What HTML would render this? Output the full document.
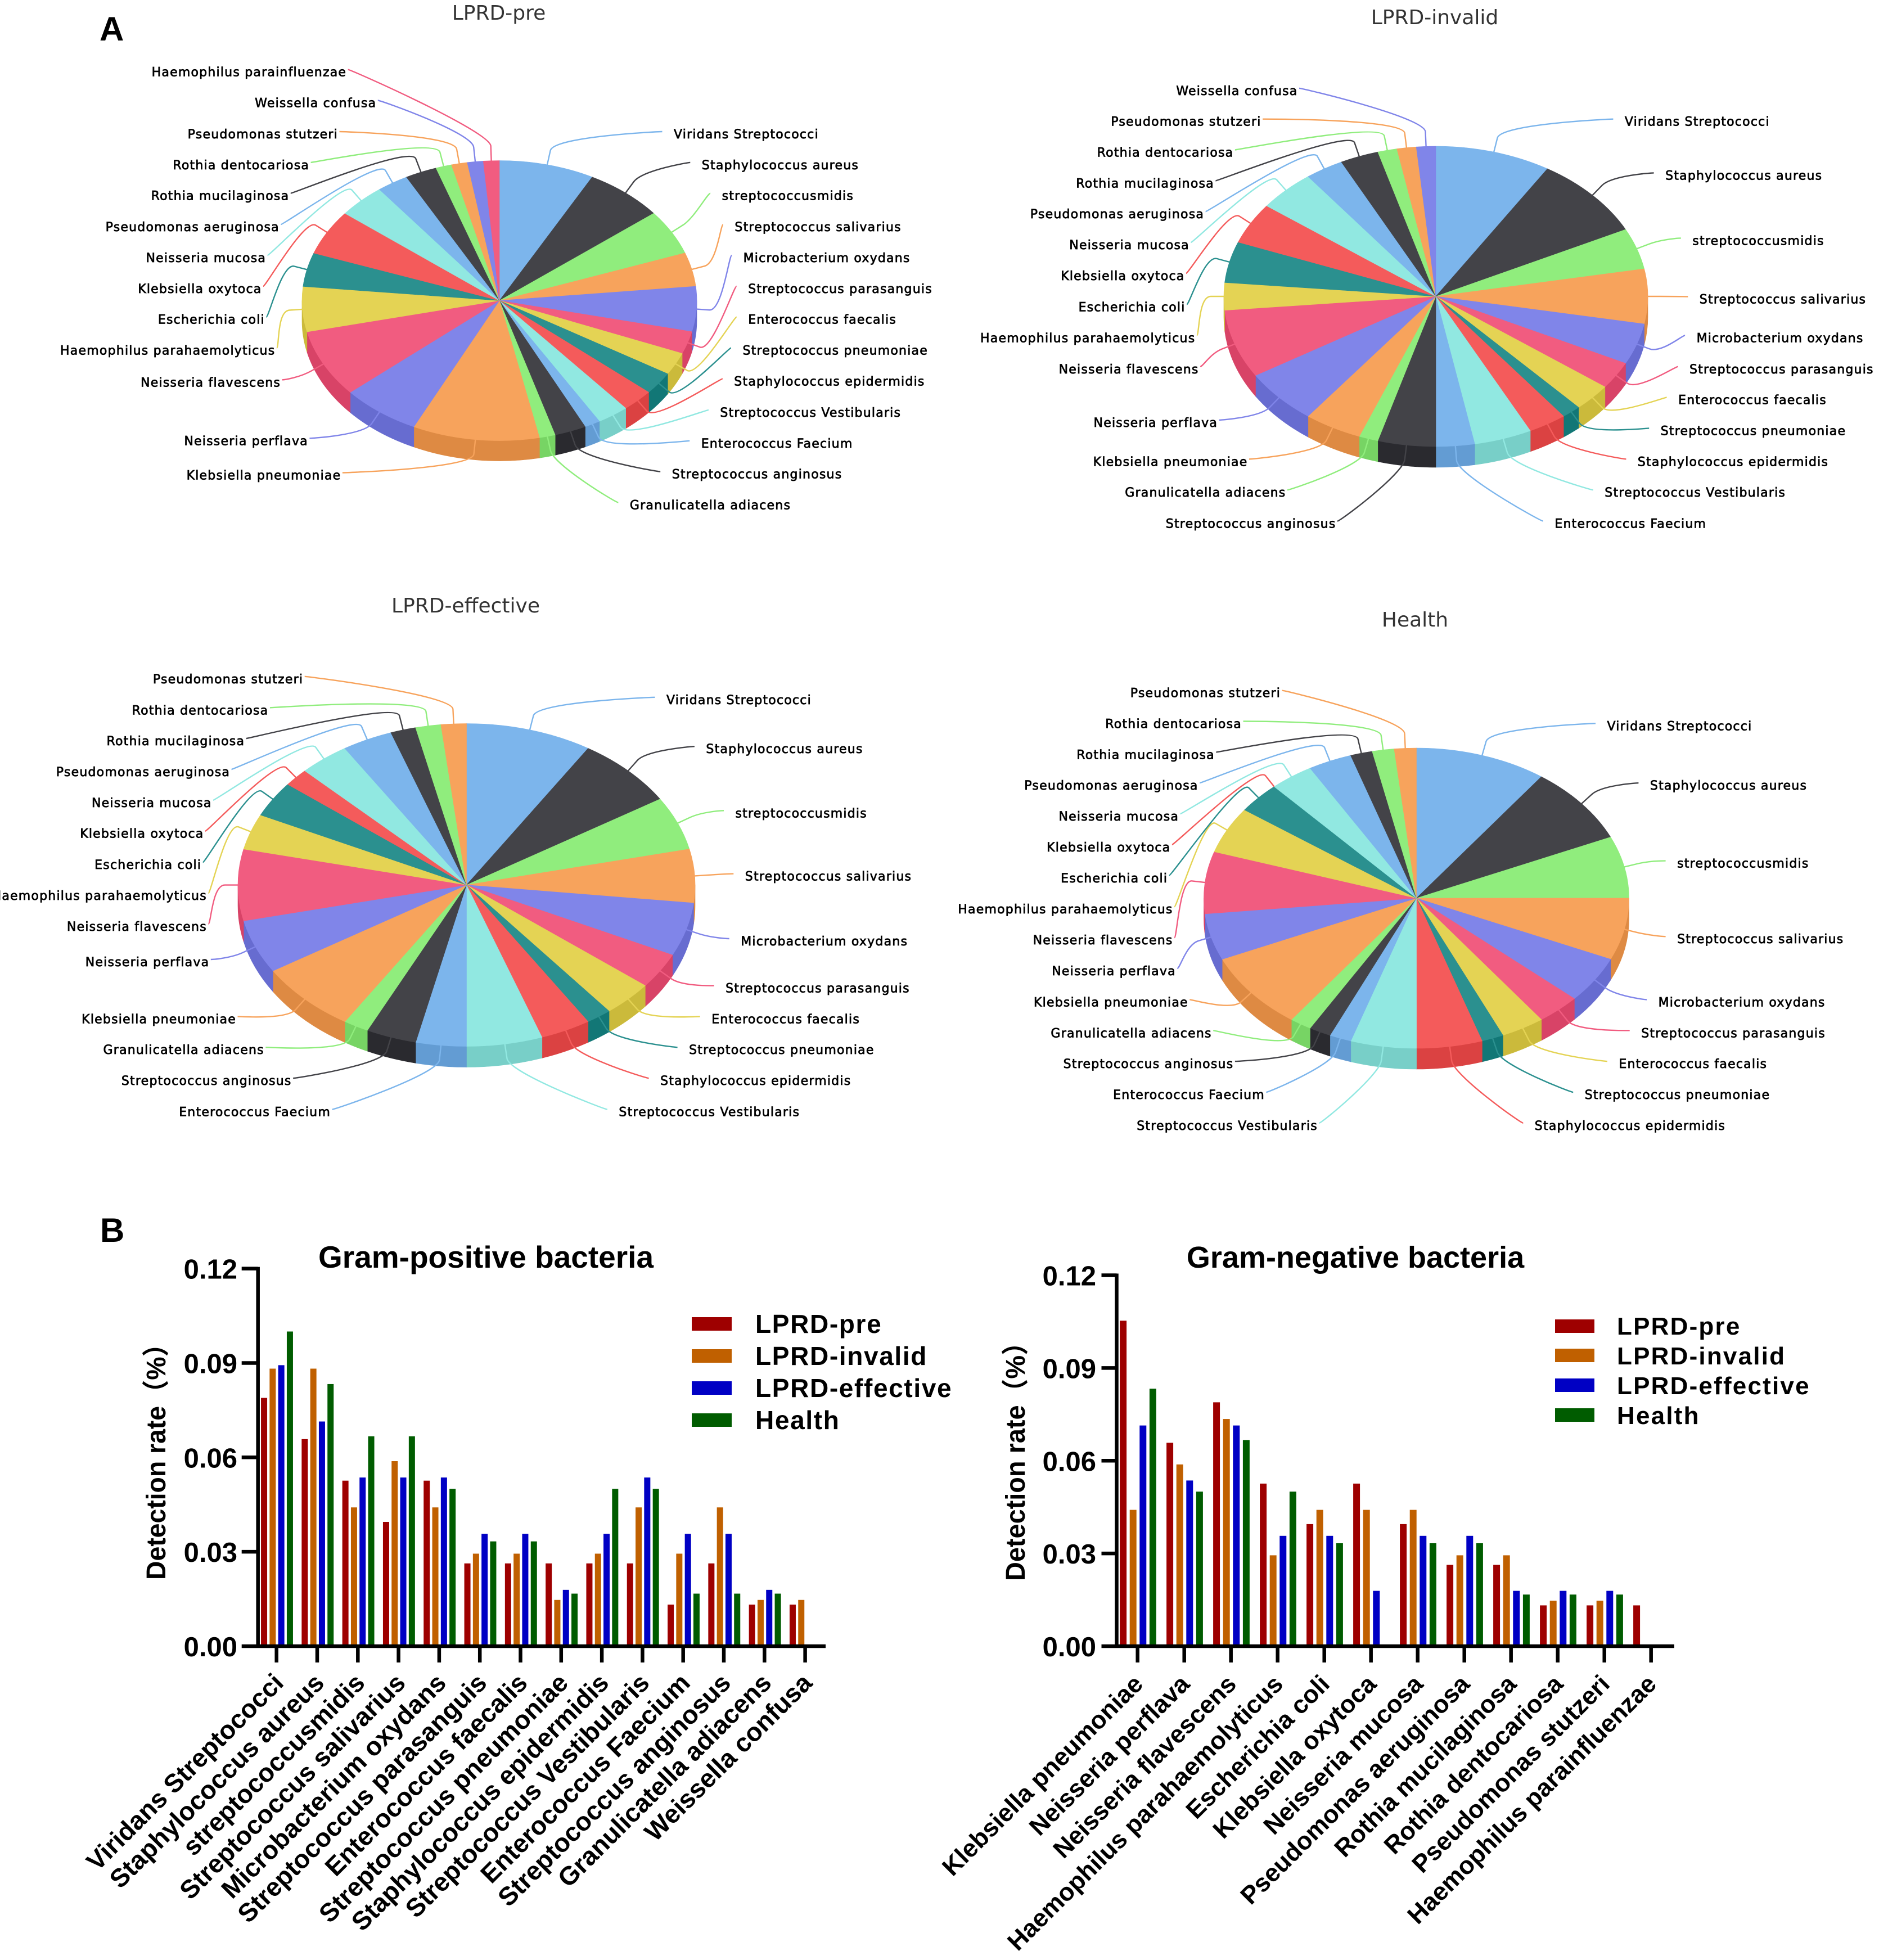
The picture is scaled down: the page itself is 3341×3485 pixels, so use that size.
<!DOCTYPE html>
<html lang="en">
<head>
<meta charset="utf-8">
<title>Bacterial detection in LPRD groups</title>
<style>
html,body{margin:0;padding:0;background:#fff}
svg{display:block}
.pie-label{font-family:"DejaVu Sans","Liberation Sans",sans-serif;font-size:22px;letter-spacing:1.22px;fill:#000;stroke:#000;stroke-width:.75px}
.pie-title{font-family:"DejaVu Sans","Liberation Sans",sans-serif;font-size:36px;fill:#333;text-anchor:middle}
.bold{font-family:"Liberation Sans",Arial,sans-serif;font-weight:700;fill:#000}
.panel{font-size:60px}
.chart-title{font-size:55px;text-anchor:middle}
.legend-text{font-size:46px;letter-spacing:1.65px}
.legend-text-r{font-size:44px;letter-spacing:2.2px}
.y-title{font-family:"Liberation Sans","Noto Sans CJK SC",sans-serif;font-weight:700;font-size:48px;fill:#000;text-anchor:start}
</style>
</head>
<body>
<svg id="fig" xmlns="http://www.w3.org/2000/svg" width="3341" height="3485" viewBox="0 0 3341 3485">
  <rect width="3341" height="3485" fill="#fff"/>
  <text class="bold panel" x="177" y="72">A</text>
  <text class="bold panel" x="178" y="2208">B</text>

  <text class="pie-title" x="887" y="35">LPRD-pre</text>
  <text class="pie-title" x="2551" y="43">LPRD-invalid</text>
  <text class="pie-title" x="828" y="1089">LPRD-effective</text>
  <text class="pie-title" x="2516" y="1114">Health</text>

  <g id="pies"></g>

  <text class="bold chart-title" x="864" y="2254">Gram-positive bacteria</text>
  <text class="bold chart-title" style="font-size:54px" x="2410" y="2254">Gram-negative bacteria</text>
  <text class="y-title" transform="translate(294,2809) rotate(-90)" textLength="443" lengthAdjust="spacingAndGlyphs">Detection rate（%）</text>
  <text class="y-title" transform="translate(1822,2811) rotate(-90)" textLength="448" lengthAdjust="spacingAndGlyphs">Detection rate（%）</text>

  <g id="bars"></g>

  <g>
    <rect x="1230" y="2342" width="71" height="24" fill="#9e0000"/>
    <rect x="1230" y="2399" width="71" height="24" fill="#c06000"/>
    <rect x="1230" y="2456" width="71" height="24" fill="#0000c4"/>
    <rect x="1230" y="2513" width="71" height="24" fill="#005c00"/>
    <text class="bold legend-text" x="1343" y="2370">LPRD-pre</text>
    <text class="bold legend-text" x="1343" y="2427">LPRD-invalid</text>
    <text class="bold legend-text" x="1343" y="2484">LPRD-effective</text>
    <text class="bold legend-text" x="1343" y="2541">Health</text>
  </g>
  <g>
    <rect x="2765" y="2346" width="70" height="24" fill="#9e0000"/>
    <rect x="2765" y="2398" width="70" height="24" fill="#c06000"/>
    <rect x="2765" y="2451" width="70" height="24" fill="#0000c4"/>
    <rect x="2765" y="2504" width="70" height="24" fill="#005c00"/>
    <text class="bold legend-text-r" x="2875" y="2373">LPRD-pre</text>
    <text class="bold legend-text-r" x="2875" y="2426">LPRD-invalid</text>
    <text class="bold legend-text-r" x="2875" y="2479">LPRD-effective</text>
    <text class="bold legend-text-r" x="2875" y="2532">Health</text>
  </g>
</svg>
<script>
/* ---------- data ---------- */
const posCategories = ["Viridans Streptococci","Staphylococcus aureus","streptococcusmidis","Streptococcus salivarius","Microbacterium oxydans","Streptococcus parasanguis","Enterococcus faecalis","Streptococcus pneumoniae","Staphylococcus epidermidis","Streptococcus Vestibularis","Enterococcus Faecium","Streptococcus anginosus","Granulicatella adiacens","Weissella confusa"];
const posPre       = [0.0789,0.0658,0.0526,0.0395,0.0526,0.0263,0.0263,0.0263,0.0263,0.0263,0.0132,0.0263,0.0132,0.0132];
const posInvalid   = [0.0882,0.0882,0.0441,0.0588,0.0441,0.0294,0.0294,0.0147,0.0294,0.0441,0.0294,0.0441,0.0147,0.0147];
const posEffective = [0.0893,0.0714,0.0536,0.0536,0.0536,0.0357,0.0357,0.0179,0.0357,0.0536,0.0357,0.0357,0.0179,0];
const posHealth    = [0.1000,0.0833,0.0667,0.0667,0.0500,0.0333,0.0333,0.0167,0.0500,0.0500,0.0167,0.0167,0.0167,0];

const negCategories = ["Klebsiella pneumoniae","Neisseria perflava","Neisseria flavescens","Haemophilus parahaemolyticus","Escherichia coli","Klebsiella oxytoca","Neisseria mucosa","Pseudomonas aeruginosa","Rothia mucilaginosa","Rothia dentocariosa","Pseudomonas stutzeri","Haemophilus parainfluenzae"];
const negPre       = [0.1053,0.0658,0.0789,0.0526,0.0395,0.0526,0.0395,0.0263,0.0263,0.0132,0.0132,0.0132];
const negInvalid   = [0.0441,0.0588,0.0735,0.0294,0.0441,0.0441,0.0441,0.0294,0.0294,0.0147,0.0147,0];
const negEffective = [0.0714,0.0536,0.0714,0.0357,0.0357,0.0179,0.0357,0.0357,0.0179,0.0179,0.0179,0];
const negHealth    = [0.0833,0.0500,0.0667,0.0500,0.0333,0,0.0333,0.0333,0.0167,0.0167,0.0167,0];

const yTickValues = [0,0.03,0.06,0.09,0.12];
const yTickLabels = ["0.00","0.03","0.06","0.09","0.12"];
const seriesNames = ["lprd-pre","lprd-invalid","lprd-effective","health"];

/* ---------- styling / layout ---------- */
const NS = "http://www.w3.org/2000/svg";
const sliceColors = ["#7cb5ec","#434348","#90ed7d","#f7a35c","#8085e9","#f15c80","#e4d354","#2b908f","#f45b5b","#91e8e1"];
const barColors = ["#9e0000","#c06000","#0000c4","#005c00"];

function make(tag, attrs, parent){
  const n = document.createElementNS(NS, tag);
  for (const k in attrs) n.setAttribute(k, attrs[k]);
  parent.appendChild(n);
  return n;
}
function slug(s){ return s.toLowerCase().replace(/[^a-z0-9]+/g,'-'); }
function darken(hex){
  const v = parseInt(hex.slice(1),16), d = 25;
  const c = [v>>16&255, v>>8&255, v&255].map(x=>Math.max(0,x-d));
  return "rgb("+c.join(",")+")";
}

/* Pie order: gram-positive (minus Weissella), gram-negative (minus H. parainfluenzae), then those two. */
function pieSeries(pos, neg){
  return pos.slice(0,13).concat(neg.slice(0,11), [pos[13], neg[11]]);
}
const pieNames = pieSeries(posCategories, negCategories);

/* Label anchors per pie, in measuring-crop units (edge x, centre y); null = no label. */
const pieLayouts = [
 {name:"lprd-pre", vals:pieSeries(posPre,negPre), cx:888, cy:534.5, rx:351, ry:249, depth:36, ox:0, oy:0, sx:.9224, sy:1.568,
  labels:[[1105,374],[1151,460],[1184,546],[1205,633],[1219,719],[1227,805],[1227,891],[1218,977],[1204,1063],[1181,1150],[1150,1236],[1102,1322],[1033,1408],[558,1325],[504,1229],[459,1066],[450,977],[433,891],[428,805],[435,719],[457,633],[473,546],[506,460],[553,374],[616,287],[567,201]]},
 {name:"lprd-invalid", vals:pieSeries(posInvalid,negInvalid), cx:2553, cy:527, rx:377, ry:267, depth:37, ox:1700, oy:0, sx:.9555, sy:1.568,
  labels:[[1136,339],[1205,489],[1251,671],[1263,834],[1258,942],[1246,1029],[1227,1115],[1197,1201],[1158,1287],[1102,1373],[1017,1460],[644,1460],[559,1373],[494,1287],[443,1178],[411,1029],[405,942],[388,856],[387,769],[395,683],[420,597],[437,511],[470,425],[517,339],[579,253],null]},
 {name:"lprd-effective", vals:pieSeries(posEffective,negEffective), cx:829.5, cy:1573.5, rx:406.5, ry:287, depth:37, ox:0, oy:1030, sx:.9224, sy:1.568,
  labels:[[1093,336],[1158,473],[1206,652],[1222,828],[1215,1009],[1190,1140],[1167,1226],[1130,1312],[1083,1398],[1015,1485],[541,1485],[477,1398],[432,1312],[386,1226],[342,1067],[338,968],[338,882],[329,796],[333,709],[346,623],[376,537],[400,451],[439,365],[496,278],null,null]},
 {name:"health", vals:pieSeries(posHealth,negHealth), cx:2518.5, cy:1597, rx:378, ry:267, depth:37, ox:1700, oy:1030, sx:.9555, sy:1.568,
  labels:[[1106,409],[1179,575],[1225,792],[1225,1003],[1193,1179],[1164,1265],[1126,1351],[1068,1437],[983,1523],[613,1523],[523,1437],[470,1351],[433,1265],[393,1179],[372,1092],[367,1006],[367,920],[358,833],[363,747],[377,661],[410,575],[438,489],[484,403],[550,317],null,null]}
];

function drawPie(p){
  const root = document.getElementById('pies');
  const g = make('g', {}, root);
  
  
  const total = p.vals.reduce((a,b)=>a+b,0);
  const pt = (t,dy)=>[(p.cx+p.rx*Math.sin(t)).toFixed(2), (p.cy-p.ry*Math.cos(t)+(dy||0)).toFixed(2)];
  const arcs = [];
  let acc = 0;
  p.vals.forEach(v=>{ const a0=acc/total*2*Math.PI; acc+=v; arcs.push([a0, acc/total*2*Math.PI]); });

  /* side walls: lower half only */
  arcs.forEach((a,i)=>{
    const lo = Math.max(a[0], Math.PI/2), hi = Math.min(a[1], Math.PI*1.5);
    if (hi <= lo) return;
    const col = darken(sliceColors[i%10]);
    const A=pt(lo), B=pt(hi), C=pt(hi,p.depth), D=pt(lo,p.depth);
    const wall = make('path', {d:`M${A}A${p.rx} ${p.ry} 0 0 1 ${B}L${C}A${p.rx} ${p.ry} 0 0 0 ${D}Z`, fill:col, stroke:col, 'stroke-width':.6}, g);
    
    
  });
  /* top slices */
  arcs.forEach((a,i)=>{
    if (a[1] <= a[0]) return;
    const col = sliceColors[i%10];
    const large = (a[1]-a[0])>Math.PI?1:0;
    const slice = make('path', {d:`M${p.cx} ${p.cy}L${pt(a[0])}A${p.rx} ${p.ry} 0 ${large} 1 ${pt(a[1])}Z`, fill:col, stroke:col, 'stroke-width':.6}, g);
    
    
  });
  /* connectors + labels */
  arcs.forEach((a,i)=>{
    const lab = p.labels[i];
    if (!lab) return;
    const mid = (a[0]+a[1])/2;
    const right = lab[0] > (p.cx-p.ox)*p.sx;
    const lx = p.ox + lab[0]/p.sx, ly = p.oy + lab[1]/p.sy;
    const ex = right ? lx-20.5 : lx+4, ey = ly-4.5;
    const tx = p.cx+p.rx*Math.sin(mid), ty = p.cy-p.ry*Math.cos(mid);
    const bx = p.cx+(p.rx+23)*Math.sin(mid), by = p.cy-(p.ry+26)*Math.cos(mid);
    const d = `M${ex.toFixed(1)} ${ey.toFixed(1)}C${(ex+(right?-5:5)).toFixed(1)} ${ey.toFixed(1)} ${(2*bx-tx).toFixed(1)} ${(2*by-ty).toFixed(1)} ${bx.toFixed(1)} ${by.toFixed(1)}L${tx.toFixed(1)} ${ty.toFixed(1)}`;
    const line = make('path', {d:d, fill:'none', stroke:sliceColors[i%10], 'stroke-width':2.4}, g);
    
    
    const tAnchorX = right ? lx : lx+1.5;
    const t = make('text', {'class':'pie-label', x:tAnchorX.toFixed(1), y:(ly+7.5).toFixed(1), 'text-anchor':right?'start':'end'}, g);
    
    
    t.textContent = pieNames[i];
  });
}
pieLayouts.forEach(drawPie);

/* ---------- bar charts ---------- */
const barCharts = [
 {name:"gram-positive", cats:posCategories, series:[posPre,posInvalid,posEffective,posHealth],
  axisX:458.7, y0:2927, y12:2255.6, xEnd:1468, first:491.7, step:72.3, barShift:.8, barStep:15.3, barW:11, tickLen:29, labelRight:422, xFont:46, xLabDx:15, xLabY:2995},
 {name:"gram-negative", cats:negCategories, series:[negPre,negInvalid,negEffective,negHealth],
  axisX:1985.5, y0:2927, y12:2267.5, xEnd:2977, first:2022.7, step:83, barShift:.8, barStep:17.6, barW:12, tickLen:27, labelRight:1949, xFont:44.5, xLabDx:12, xLabY:2997}
];

function drawBars(c){
  const root = document.getElementById('bars');
  const g = make('g', {}, root);
  
  
  const yScale = v => c.y0 - v/0.12*(c.y0-c.y12);
  const xScale = i => c.first + i*c.step;

  c.series.forEach((vals,s)=>{
    vals.forEach((v,i)=>{
      if (!v) return;
      const x = xScale(i) + c.barShift + (s-1.5)*c.barStep - c.barW/2;
      const bar = make('rect', {x:x.toFixed(2), y:yScale(v).toFixed(2), width:c.barW, height:(c.y0-yScale(v)).toFixed(2), fill:barColors[s]}, g);
      
      
    });
  });

  const yAxis = make('line', {x1:c.axisX, x2:c.axisX, y1:c.y12-3, y2:c.y0+3, stroke:'#000', 'stroke-width':6.5}, g);
  
  
  const xAxis = make('line', {x1:c.axisX-c.tickLen, x2:c.xEnd, y1:c.y0, y2:c.y0, stroke:'#000', 'stroke-width':6.5}, g);
  
  

  yTickValues.forEach((v,i)=>{
    const y = yScale(v);
    if (v>0){
      const tick = make('line', {x1:c.axisX-c.tickLen, x2:c.axisX, y1:y, y2:y, stroke:'#000', 'stroke-width':6.5}, g);
      
      
    }
    const lab = make('text', {'class':'bold', x:c.labelRight, y:(y+18).toFixed(1), 'text-anchor':'end', 'font-size':49}, g);
    
    
    lab.textContent = yTickLabels[i];
  });

  c.cats.forEach((name,i)=>{
    const x = xScale(i);
    const tick = make('line', {x1:x, x2:x, y1:c.y0, y2:c.y0+29, stroke:'#000', 'stroke-width':6.5}, g);
    
    
    const tx = x + c.xLabDx;
    const lab = make('text', {'class':'bold', transform:`translate(${tx.toFixed(1)},${c.xLabY}) rotate(-45)`, 'text-anchor':'end', 'font-size':c.xFont}, g);
    
    
    lab.textContent = name;
  });
}
barCharts.forEach(drawBars);
</script>
</body>
</html>
